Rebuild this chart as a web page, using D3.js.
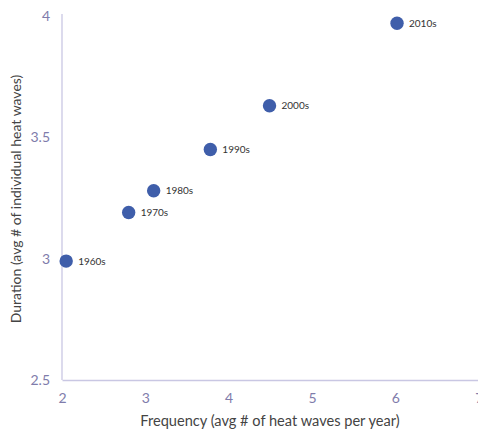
<!DOCTYPE html>
<html lang="en">
<head>
    <meta charset="UTF-8">
    <title>Heat waves</title>
    <style>
    body { margin:0; background:#fff; }
    svg text { font-family: Lato, "Open Sans", sans-serif; }
    </style>
</head>
<body>
    <svg class="scatter"></svg>

<script src="https://cdn.jsdelivr.net/npm/d3@7"></script>
<script>

    // decades, frequency (x) and duration (y)
    var decades = ["1960s", "1970s", "1980s", "1990s", "2000s", "2010s"];
    var frequency = [2.05, 2.80, 3.10, 3.78, 4.49, 6.02];
    var duration = [2.99, 3.19, 3.28, 3.45, 3.63, 3.97];

    var xTicks = [2, 3, 4, 5, 6, 7];
    var yTicks = [2.5, 3, 3.5, 4];

    var svgWidth = 478, svgHeight = 433;
    var padLeft = 62, padRight = 478.7, padTop = 16, padBottom = 380;

    var svg = d3.select('svg')
        .attr('width', svgWidth)
        .attr('height', svgHeight);

    var xScale = d3.scaleLinear().domain([2, 7]).range([padLeft, padRight]);
    var yScale = d3.scaleLinear().domain([2.5, 4]).range([padBottom, padTop]);

    var xAxis = d3.axisBottom(xScale)
        .tickValues(xTicks)
        .tickSize(0)
        .tickPadding(13)
        .tickFormat(d3.format("d"));

    var yAxis = d3.axisLeft(yScale)
        .tickValues(yTicks)
        .tickSize(0)
        .tickPadding(12)
        .tickFormat(function(d) { return d; });

    var gx = svg.append("g")
        .attr("transform", "translate(0," + padBottom + ")")
        .call(xAxis);

    var gy = svg.append("g")
        .attr("transform", "translate(" + padLeft + ",0)")
        .call(yAxis);

    [gx, gy].forEach(function(g) {
        g.select(".domain").attr("stroke", "#c9c7e3").attr("stroke-width", 1.3);
        g.selectAll(".tick text")
            .attr("fill", "#7f7cab")
            .style("font-size", "14px");
    });
    gy.select(".domain").attr("d", "M0," + (padTop - 2) + "V" + padBottom);

    // axis titles
    svg.append("text")
        .attr("x", 270)
        .attr("y", 426)
        .attr("text-anchor", "middle")
        .attr("fill", "#444")
        .style("font-size", "14.6px")
        .text("Frequency (avg # of heat waves per year)");

    svg.append("text")
        .attr("transform", "translate(21,199) rotate(-90)")
        .attr("text-anchor", "middle")
        .attr("fill", "#444")
        .style("font-size", "14px")
        .text("Duration (avg # of individual heat waves)");

    var pts = decades.map(function(d, i) {
        return { label: d, x: frequency[i], y: duration[i] };
    });

    svg.selectAll("circle.pt")
        .data(pts)
        .enter()
        .append("circle")
        .attr("class", "pt")
        .attr("cx", function(d) { return xScale(d.x); })
        .attr("cy", function(d) { return yScale(d.y); })
        .attr("r", 6.7)
        .style("fill", "#3f5eaa");

    svg.selectAll("text.lbl")
        .data(pts)
        .enter()
        .append("text")
        .attr("class", "lbl")
        .attr("x", function(d) { return xScale(d.x) + 12; })
        .attr("y", function(d) { return yScale(d.y) + 3.5; })
        .attr("fill", "#333")
        .style("font-size", "10px")
        .text(function(d) { return d.label; });

</script>
</body>
</html>
